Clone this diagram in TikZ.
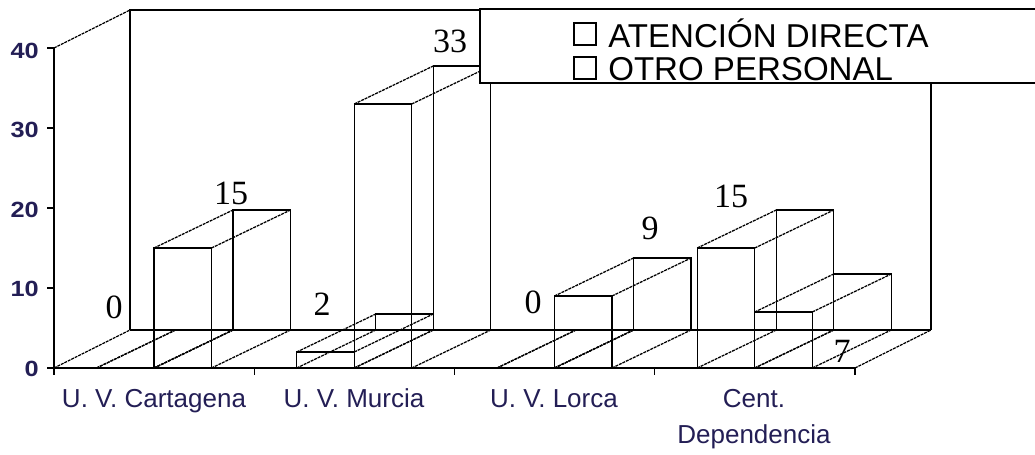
\documentclass[tikz,border=0pt]{standalone}
\usepackage{fontspec}
\usepackage{graphicx}
\setmainfont{Liberation Serif}
\newfontfamily\arialf{Liberation Sans}
\definecolor{axtext}{RGB}{35,30,85}
\newcommand\mybar[3]{%
  \pgfmathsetmacro\yt{368-8*#3}%
  \pgfmathsetmacro\ytb{\yt-38}%
  \pgfmathsetmacro\xa{#1+79}%
  \pgfmathsetmacro\xb{#2+79}%
  \draw[hid] (#1,368) -- (\xa,330) (#2,368) -- (\xb,330);
  \draw[hid] (#1,\yt) -- (\xa,\ytb) (#2,\yt) -- (\xb,\ytb);
  \draw[edge] (\xa,330) -- (\xa,\ytb) -- (\xb,\ytb) -- (\xb,330);
  \draw[edge] (#1,368) rectangle (#2,\yt);
}
\begin{document}
\begin{tikzpicture}[x=0.75pt,y=-0.75pt,
  edge/.style={line width=0.9pt, black},
  hid/.style={line width=0.95pt, black, dash pattern=on 2.2pt off 0.7pt},
  val/.style={font=\fontsize{25.5}{28}\selectfont, inner sep=0pt, anchor=base},
  cat/.style={font=\arialf\fontsize{19.5}{24}\selectfont, text=axtext, inner sep=0pt, anchor=base},
  ylab/.style={font=\arialf\bfseries\fontsize{16.5}{18}\selectfont, text=axtext, inner sep=0pt, anchor=east},
  leg/.style={font=\arialf\fontsize{24.8}{26}\selectfont, inner sep=0pt, anchor=base west},
  legsq/.style={draw, line width=0.9pt, minimum size=16.5pt, inner sep=0pt}
]
\useasboundingbox (0,0) rectangle (1035,454);
% walls and floor
\draw[edge] (54,368) -- (54,48);
\draw[hid] (54,48) -- (130,10);
\draw[edge] (130,330) -- (130,10) -- (931,10) -- (931,330);
\draw[edge] (130,330) -- (931,330);
\draw[hid] (54,368) -- (130,330);
\draw[hid] (855,368) -- (931,330);
\draw[edge] (47,368) -- (855,368);
\foreach \y in {48,128,208,288} \draw[edge] (47,\y) -- (54,\y);
\foreach \x in {54,254.25,454.5,654.75,855} \draw[edge] (\x,368) -- (\x,375);
% bars
\mybar{96.5}{154}{0}
\mybar{154}{211.5}{15}
\mybar{296.75}{354.25}{2}
\mybar{354.25}{411.75}{33}
\mybar{497}{554.5}{0}
\mybar{554.5}{612}{9}
\mybar{697.25}{754.75}{15}
\mybar{754.75}{812.25}{7}
% legend
\draw[edge, fill=white] (1040,9) -- (480,9) -- (480,83) -- (1040,83);
\node[legsq] (sq1) at (585,34) {};
\node[legsq] (sq2) at (585,68) {};
\node[leg] (l1) at (608,47) {ATENCIÓN DIRECTA};
\node[leg] (l2) at (608,80) {OTRO PERSONAL};
% value labels
\node[val] (v1) at (114,318) {0};
\node[val] (v2) at (231,204) {15};
\node[val] (v3) at (322,315) {2};
\node[val] (v4) at (450,52) {33};
\node[val] (v5) at (533,313) {0};
\node[val] (v6) at (650,239) {9};
\node[val] (v7) at (731,207) {15};
\node[val] (v8) at (842,362) {7};
% y labels
\node[ylab] (y40) at (39,50.5) {\scalebox{1.15}[1]{40}};
\node[ylab] (y30) at (39,130) {\scalebox{1.15}[1]{30}};
\node[ylab] (y20) at (39,210) {\scalebox{1.15}[1]{20}};
\node[ylab] (y10) at (39,289) {\scalebox{1.15}[1]{10}};
\node[ylab] (y0) at (39,369) {\scalebox{1.15}[1]{0}};
% category labels
\node[cat] (c1) at (154,407) {U. V. Cartagena};
\node[cat] (c2) at (354,407) {U. V. Murcia};
\node[cat] (c3) at (554,407) {U. V. Lorca};
\node[cat] (c4) at (754,407) {Cent.};
\node[cat] (c5) at (754,443) {Dependencia};
\end{tikzpicture}
\end{document}
